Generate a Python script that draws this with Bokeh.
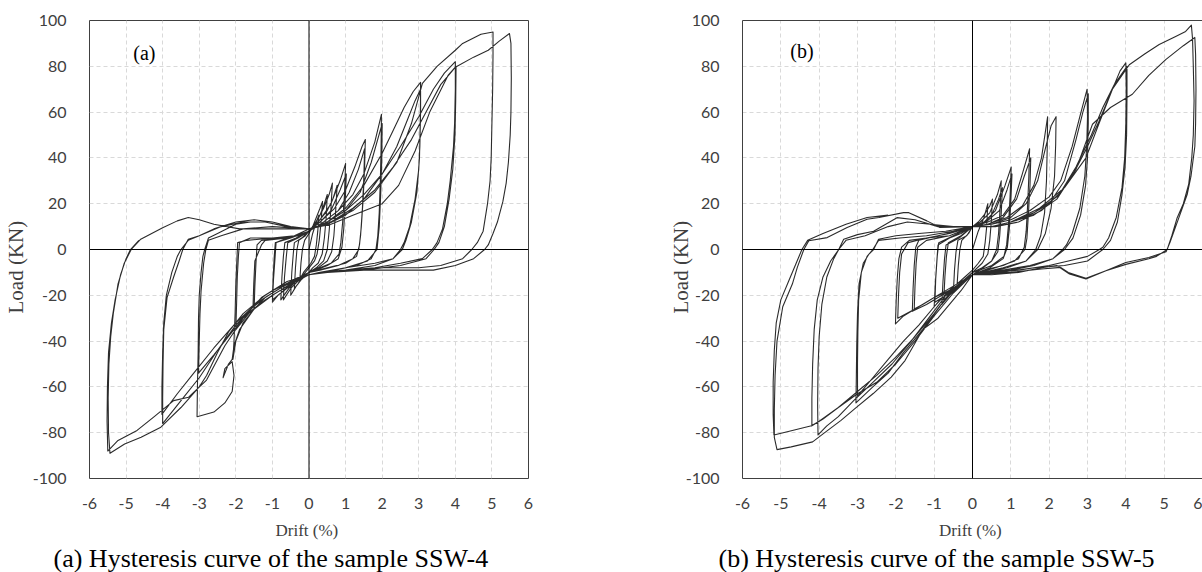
from bokeh.plotting import figure
from bokeh.layouts import row
from bokeh.models import FixedTicker, Span, Label, Title, LinearAxis, Range1d
from bokeh.embed import file_html
from bokeh.resources import INLINE

# ---------------- data ----------------
x_ticks = [-6, -5, -4, -3, -2, -1, 0, 1, 2, 3, 4, 5, 6]
x_tick_labels = ["-6", "-5", "-4", "-3", "-2", "-1", "0", "1", "2", "3", "4", "5", "6"]
y_ticks = [-100, -80, -60, -40, -20, 0, 20, 40, 60, 80, 100]
y_tick_labels = ["-100", "-80", "-60", "-40", "-20", "0", "20", "40", "60", "80", "100"]

x_title = "Drift  (%)"
y_title = "Load (KN)"
captions = ["(a) Hysteresis curve of the sample SSW-4",
            "(b) Hysteresis curve of the sample SSW-5"]
panel_tags = ["(a)", "(b)"]

# SSW-4 : (drift %, load kN), in test order
ssw4_loops_small = [
    (0, 0), (0.1, 7), (0.2, 12), (0.27, 15), (0.24, 8), (0.2, 2), (0.15, -3), (0.05, -6), (-0.05, -8),
    (-0.15, -10), (-0.25, -13), (-0.22, -6), (-0.18, 0), (-0.12, 4), (0, 7),
    (0.1, 10), (0.2, 14), (0.3, 18), (0.37, 21), (0.33, 12), (0.28, 4), (0.22, -2), (0.15, -5), (0, -8),
    (-0.15, -11), (-0.3, -15), (-0.4, -17), (-0.37, -8), (-0.33, 0), (-0.28, 4), (-0.1, 6), (0, 8),
    (0.15, 11), (0.3, 15), (0.42, 20), (0.5, 24), (0.47, 14), (0.42, 5), (0.36, -2), (0.25, -6), (0.1, -8),
    (0, -10), (-0.2, -13), (-0.35, -16), (-0.5, -20), (-0.47, -10), (-0.43, -2), (-0.4, 3), (-0.2, 5), (0, 8),
    (0.2, 12), (0.4, 18), (0.55, 24), (0.64, 29), (0.6, 18), (0.55, 8), (0.5, 0), (0.4, -5), (0.2, -8),
    (0, -10), (-0.25, -13), (-0.5, -17), (-0.7, -22), (-0.67, -12), (-0.62, -3), (-0.58, 3), (-0.3, 5), (0, 8),
    (0.25, 12), (0.5, 17), (0.65, 22), (0.77, 28), (0.73, 17), (0.68, 6), (0.62, -1), (0.5, -5), (0.25, -8),
    (0, -10), (-0.3, -13), (-0.55, -17), (-0.77, -22), (-0.74, -12), (-0.7, -3), (-0.66, 3), (-0.35, 5), (0, 8),
    (0.3, 13), (0.6, 20), (0.85, 30), (1.0, 37.5), (0.97, 24), (0.92, 12), (0.87, 3), (0.82, -2), (0.6, -6),
    (0.3, -8), (0, -10), (-0.3, -13), (-0.6, -17), (-0.85, -20), (-1.0, -23), (-0.97, -13), (-0.93, -4),
    (-0.9, 3), (-0.6, 5), (-0.3, 6), (0, 8),
    (0.3, 12), (0.6, 17), (0.85, 26), (1.02, 33), (0.99, 21), (0.95, 9), (0.9, 1), (0.8, -4), (0.5, -7),
    (0.2, -9), (0, -10), (-0.35, -13), (-0.7, -18), (-1.0, -22), (-0.98, -12), (-0.95, -3), (-0.92, 3),
    (-0.5, 5), (0, 8),
]
ssw4_loops_mid = [
    (0.3, 12), (0.7, 18), (1.0, 26), (1.25, 36), (1.45, 45), (1.54, 48), (1.52, 36), (1.48, 22), (1.43, 10),
    (1.38, 2), (1.3, -3), (1.0, -6), (0.5, -8), (0, -10), (-0.4, -13), (-0.8, -17), (-1.2, -21), (-1.5, -26),
    (-1.48, -16), (-1.45, -6), (-1.42, 2), (-1.3, 4), (-0.8, 5), (-0.3, 6), (0, 8),
    (0.4, 12), (0.8, 17), (1.1, 25), (1.35, 35), (1.52, 44), (1.5, 32), (1.46, 18), (1.41, 6), (1.36, 0),
    (1.2, -4), (0.8, -7), (0.3, -9), (0, -10), (-0.5, -14), (-1.0, -18), (-1.3, -21), (-1.53, -25),
    (-1.51, -15), (-1.48, -5), (-1.3, 2), (-1.2, 4), (-0.6, 5), (0, 8),
    (0.4, 12), (0.8, 17), (1.2, 24), (1.5, 33), (1.8, 47), (1.98, 59), (1.97, 44), (1.95, 30), (1.92, 16),
    (1.88, 6), (1.83, 0), (1.7, -4), (1.3, -7), (0.7, -9), (0, -11), (-0.4, -14), (-0.8, -18), (-1.2, -22),
    (-1.6, -27), (-2.0, -35), (-1.98, -24), (-1.96, -12), (-1.93, -3), (-1.9, 3), (-1.6, 5), (-1.0, 5),
    (-0.4, 6), (0, 9),
    (0.5, 12), (1.0, 17), (1.4, 25), (1.7, 38), (2.0, 55), (1.99, 40), (1.96, 24), (1.92, 10), (1.86, 0),
    (1.6, -5), (1.0, -8), (0.4, -10), (0, -11), (-0.5, -15), (-1.0, -20), (-1.5, -26), (-1.8, -32),
    (-2.0, -40), (-2.08, -48), (-2.05, -40), (-2.02, -28), (-2.0, -15), (-1.97, -4), (-1.95, 3), (-1.7, 4),
    (-1.0, 5), (-0.4, 6), (0, 9),
    (0.5, 12), (1.0, 18), (1.5, 28), (2.0, 42), (2.3, 52), (2.6, 62), (2.85, 69), (3.05, 73), (3.05, 60),
    (3.03, 45), (3.0, 35), (2.9, 22), (2.75, 10), (2.6, 3), (2.5, 0), (2.3, -4), (1.8, -7), (1.0, -9),
    (0.4, -10), (0, -11), (-0.5, -15), (-1.0, -20), (-1.5, -26), (-1.9, -35), (-2.05, -42), (-2.1, -48),
    (-2.2, -50), (-2.35, -56), (-2.3, -52), (-2.1, -49), (-2.05, -55), (-2.1, -62), (-2.3, -67), (-2.6, -71),
    (-3.06, -73), (-3.05, -60), (-3.03, -45), (-3.02, -30), (-3.0, -20), (-2.95, -10), (-2.9, -3),
    (-2.85, 0), (-2.75, 5), (-2.5, 7), (-2.0, 11), (-1.6, 12), (-1.2, 12), (-0.6, 10), (0, 9),
    (0.5, 11), (1.0, 15), (1.5, 22), (2.0, 33), (2.4, 45), (2.7, 57), (2.9, 65), (3.05, 70), (3.04, 55),
    (3.02, 40), (2.95, 25), (2.8, 12), (2.65, 4), (2.55, 0), (2.3, -4), (1.8, -6), (1.0, -8), (0.3, -10),
    (0, -11), (-0.6, -16), (-1.2, -22), (-1.8, -30), (-2.2, -38), (-2.6, -46), (-3.02, -54), (-3.0, -40),
    (-2.98, -28), (-2.95, -18), (-2.88, -6), (-2.82, 0), (-2.75, 4), (-2.4, 6), (-1.8, 9), (-1.0, 10), (0, 9),
]
ssw4_loops_large = [
    (0.5, 12), (1.0, 17), (1.5, 24), (2.0, 33), (2.5, 45), (3.0, 58), (3.4, 70), (3.7, 77), (4.0, 82),
    (4.0, 70), (3.98, 55), (3.95, 45), (3.86, 30), (3.78, 20), (3.65, 9), (3.5, 3), (3.37, 0), (3.1, -4),
    (2.5, -6), (1.8, -8), (1.0, -9), (0.3, -10), (0, -11), (-0.6, -15), (-1.2, -21), (-1.6, -26), (-2.0, -33),
    (-2.5, -44), (-3.0, -56), (-3.5, -66), (-4.0, -76), (-4.0, -65), (-3.99, -50), (-3.97, -35), (-3.88, -21),
    (-3.7, -12), (-3.55, -5), (-3.45, 0), (-3.3, 4.5), (-3.0, 6), (-2.6, 9), (-2.0, 12), (-1.5, 13),
    (-1.0, 12), (-0.5, 10), (0, 9),
    (0.6, 12), (1.2, 18), (1.8, 26), (2.3, 36), (2.8, 48), (3.2, 60), (3.6, 72), (4.02, 80), (4.01, 65),
    (3.99, 50), (3.93, 35), (3.83, 22), (3.7, 10), (3.55, 3), (3.42, 0), (3.2, -4), (2.5, -7), (1.5, -9),
    (0.5, -10), (0, -11), (-0.7, -16), (-1.4, -23), (-2.0, -32), (-2.6, -43), (-3.2, -55), (-3.6, -63),
    (-4.02, -72), (-4.02, -60), (-4.0, -45), (-3.97, -32), (-3.9, -20), (-3.75, -10), (-3.6, -3), (-3.5, 0),
    (-3.3, 4), (-3.0, 6), (-2.4, 10), (-1.8, 12), (-1.2, 12), (-0.6, 10), (0, 9),
    (0.6, 12), (1.2, 17), (1.8, 25), (2.4, 38), (2.8, 55), (3.1, 72.5), (3.5, 80), (4.0, 87), (4.2, 90),
    (4.7, 94), (5.03, 95), (5.03, 85), (5.02, 70), (5.0, 55), (4.98, 40), (4.95, 30), (4.88, 20), (4.76, 8),
    (4.6, 3), (4.45, 0), (4.2, -4), (3.6, -7), (3.0, -8), (2.0, -8), (1.0, -9), (0.3, -10), (0, -11),
    (-0.6, -14), (-1.2, -20), (-1.8, -28), (-2.2, -36), (-2.5, -45), (-2.8, -55), (-3.0, -60), (-3.5, -69),
    (-4.05, -77.6), (-4.59, -82), (-5.04, -84.9), (-5.44, -89), (-5.48, -80), (-5.49, -65), (-5.47, -50),
    (-5.42, -38), (-5.35, -28), (-5.22, -15), (-5.05, -6), (-4.86, 0), (-4.6, 4.5), (-4.3, 7), (-4.0, 9.5),
    (-3.6, 12.5), (-3.3, 14), (-3.0, 13), (-2.6, 11), (-1.9, 9), (-1.0, 9), (0, 9),
    (0.6, 11), (1.2, 15), (2.0, 20), (2.45, 28), (2.9, 43), (3.3, 60), (3.8, 76), (4.0, 79.6), (4.5, 84),
    (4.9, 87), (5.2, 91), (5.48, 94.3), (5.52, 90), (5.53, 75), (5.52, 60), (5.5, 50), (5.45, 38),
    (5.39, 29), (5.3, 21), (5.15, 12), (5.03, 7), (4.9, 2), (4.8, 0), (4.5, -4), (4.0, -7), (3.4, -9),
    (2.5, -9), (1.5, -9), (0.5, -10), (0, -11), (-0.6, -14), (-1.3, -21), (-1.8, -30), (-2.3, -42),
    (-2.8, -57), (-3.29, -64.5), (-3.7, -66), (-4.23, -73), (-4.7, -79), (-5.22, -83.4), (-5.5, -88),
    (-5.52, -75), (-5.51, -60), (-5.48, -45), (-5.4, -32), (-5.3, -22), (-5.15, -11), (-5.0, -4),
    (-4.88, 0), (-4.65, 4),
]

# SSW-5 : (drift %, load kN)
ssw5_loops_small = [
    (0, 0), (0.15, 8), (0.3, 14), (0.4, 20), (0.37, 10), (0.33, 3), (0.28, -3), (0.15, -6), (0, -9),
    (-0.2, -12), (-0.4, -15), (-0.37, -7), (-0.33, 0), (-0.28, 4), (-0.1, 7), (0, 10),
    (0.15, 12), (0.3, 15), (0.45, 19), (0.52, 22), (0.49, 12), (0.45, 4), (0.4, -2), (0.25, -6), (0, -10),
    (-0.2, -13), (-0.38, -16), (-0.5, -19), (-0.47, -9), (-0.43, -1), (-0.38, 4), (-0.15, 6), (0, 10),
    (0.2, 12), (0.45, 16), (0.65, 24), (0.75, 30), (0.72, 18), (0.68, 7), (0.63, 0), (0.5, -5), (0.25, -8),
    (0, -10), (-0.3, -15), (-0.55, -19), (-0.75, -22), (-0.72, -12), (-0.68, -3), (-0.63, 3), (-0.3, 6), (0, 10),
    (0.25, 11), (0.5, 15), (0.68, 22), (0.78, 27), (0.75, 16), (0.71, 6), (0.66, -1), (0.5, -5), (0.2, -9),
    (0, -10), (-0.35, -16), (-0.6, -20), (-0.8, -24), (-0.77, -14), (-0.73, -4), (-0.69, 2), (-0.35, 5), (0, 10),
    (0.3, 12), (0.6, 17), (0.85, 28), (1.01, 36), (0.98, 23), (0.94, 11), (0.89, 2), (0.82, -3), (0.5, -7),
    (0.2, -9), (0, -11), (-0.3, -15), (-0.6, -19), (-0.85, -22), (-1.0, -25), (-0.97, -15), (-0.93, -5),
    (-0.9, 2), (-0.6, 5), (-0.3, 7), (0, 10),
    (0.35, 12), (0.7, 17), (0.9, 26), (1.03, 33), (1.0, 21), (0.96, 9), (0.91, 1), (0.8, -4), (0.45, -8),
    (0, -11), (-0.4, -16), (-0.7, -20), (-0.98, -23), (-0.96, -13), (-0.92, -3), (-0.88, 3), (-0.5, 6), (0, 10),
]
ssw5_loops_mid = [
    (0.4, 12), (0.8, 15), (1.1, 22), (1.3, 33), (1.49, 44), (1.47, 32), (1.44, 20), (1.4, 8), (1.35, 1),
    (1.2, -4), (0.8, -7), (0.3, -9), (0, -11), (-0.4, -16), (-0.8, -20), (-1.2, -24), (-1.57, -27),
    (-1.55, -17), (-1.52, -7), (-1.48, 1), (-1.4, 4), (-0.9, 6), (-0.4, 8), (0, 10),
    (0.4, 11), (0.8, 14), (1.15, 22), (1.35, 32), (1.52, 40), (1.5, 28), (1.46, 16), (1.42, 5), (1.37, 0),
    (1.1, -5), (0.6, -8), (0, -11), (-0.5, -17), (-1.0, -21), (-1.3, -24), (-1.52, -26), (-1.5, -16),
    (-1.47, -6), (-1.43, 1), (-1.2, 4), (-0.6, 6), (0, 10),
    (0.4, 11), (0.9, 14), (1.3, 19), (1.6, 28), (1.8, 40), (1.96, 58), (1.95, 45), (1.93, 30), (1.88, 16),
    (1.78, 6), (1.65, 0), (1.4, -5), (0.9, -8), (0.4, -10), (0, -11), (-0.5, -16), (-1.0, -21), (-1.5, -26),
    (-1.8, -29), (-2.01, -32.5), (-1.99, -22), (-1.96, -12), (-1.92, -4), (-1.85, 1), (-1.65, 4), (-1.2, 5),
    (-0.6, 6), (0, 10),
    (0.5, 11), (1.0, 14), (1.4, 20), (1.7, 30), (1.9, 44), (2.05, 54), (2.18, 58), (2.17, 46), (2.14, 32),
    (2.05, 18), (1.9, 7), (1.7, 0), (1.4, -5), (0.8, -8), (0, -11), (-0.5, -16), (-1.0, -21), (-1.5, -26),
    (-1.95, -30), (-1.93, -20), (-1.9, -10), (-1.85, -2), (-1.68, 3), (-1.2, 5), (-0.6, 7), (0, 10),
    (0.5, 11), (1.0, 13), (1.5, 17), (2.0, 23), (2.3, 30), (2.6, 45), (2.8, 58), (2.99, 70), (3.0, 58),
    (2.98, 45), (2.93, 32), (2.8, 18), (2.6, 7), (2.45, 2), (2.35, 0), (2.1, -4), (1.6, -7), (1.0, -9),
    (0.4, -10), (0, -11), (-0.5, -17), (-0.9, -26), (-1.3, -35), (-1.8, -45), (-2.2, -54), (-2.6, -60),
    (-3.04, -67), (-3.03, -55), (-3.02, -42), (-3.0, -28), (-2.96, -15), (-2.85, -6), (-2.7, -2), (-2.58, 0),
    (-2.45, 4.5), (-2.0, 6), (-1.4, 7), (-0.7, 8), (0, 10),
    (0.5, 10), (1.0, 12), (1.5, 15), (2.0, 20), (2.4, 30), (2.7, 48), (2.88, 60), (3.02, 68), (3.02, 55),
    (3.0, 40), (2.95, 28), (2.82, 15), (2.62, 5), (2.4, 0), (2.1, -4), (1.5, -7), (0.8, -9), (0, -11),
    (-0.5, -16), (-1.0, -25), (-1.4, -33), (-1.8, -40), (-2.2, -48), (-2.6, -56), (-3.0, -64), (-3.0, -50),
    (-2.99, -36), (-2.97, -22), (-2.9, -10), (-2.75, -3), (-2.6, 0), (-2.45, 4), (-1.9, 5), (-1.2, 6),
    (-0.5, 8), (0, 10),
]
ssw5_loops_large = [
    (0.5, 10), (1.0, 12), (1.6, 16), (2.2, 23), (2.6, 32), (3.0, 45), (3.3, 56), (3.65, 70), (3.85, 78),
    (4.0, 81.5), (4.01, 70), (4.0, 55), (3.97, 40), (3.9, 27), (3.75, 14), (3.55, 5), (3.4, 1), (3.31, 0),
    (3.0, -3), (2.5, -5), (2.0, -7), (1.2, -9), (0.5, -10), (0, -11), (-0.5, -17), (-1.0, -28), (-1.5, -38),
    (-2.0, -47), (-2.5, -55), (-3.0, -62), (-3.5, -69), (-3.9, -74), (-4.19, -77), (-4.19, -65),
    (-4.17, -50), (-4.13, -35), (-4.05, -22), (-3.9, -12), (-3.7, -5), (-3.49, 0), (-3.36, 4.5),
    (-3.0, 6.5), (-2.58, 8), (-1.97, 13.9), (-1.5, 13), (-0.9, 10), (0, 10),
    (0.6, 10), (1.2, 12), (1.8, 17), (2.3, 25), (2.7, 36), (3.1, 50), (3.4, 62), (3.7, 72), (4.03, 80),
    (4.03, 66), (4.02, 50), (3.98, 36), (3.9, 24), (3.78, 12), (3.6, 4), (3.4, 0), (3.0, -5), (2.4, -7),
    (1.6, -8), (0.7, -10), (0, -11), (-0.6, -18), (-1.1, -29), (-1.6, -40), (-2.1, -50), (-2.6, -58),
    (-3.1, -66), (-3.5, -73), (-3.8, -77), (-4.03, -81), (-4.04, -68), (-4.03, -52), (-4.0, -38),
    (-3.93, -24), (-3.8, -12), (-3.62, -4), (-3.49, 0), (-3.3, 4), (-2.8, 6), (-2.2, 10), (-1.7, 12),
    (-1.1, 11), (-0.5, 10), (0, 10),
    (0.5, 10), (1.0, 12), (1.75, 18), (2.4, 27), (2.96, 40), (3.3, 55), (3.65, 70), (4.09, 80.7),
    (4.5, 85.5), (4.87, 89.5), (5.3, 93), (5.56, 95.2), (5.71, 98), (5.74, 92), (5.76, 80), (5.78, 65),
    (5.76, 50), (5.72, 40), (5.64, 28.5), (5.5, 20), (5.34, 13.9), (5.2, 6), (5.08, 0), (4.8, -3),
    (4.6, -4), (4.0, -6.5), (3.48, -9.3), (2.96, -12.9), (2.53, -10.7), (2.2, -7), (1.8, -8), (1.2, -10),
    (0.5, -11), (0, -11), (-0.3, -18), (-0.9, -30), (-1.3, -35), (-1.76, -48.5), (-2.12, -55.7),
    (-2.59, -62.9), (-3.06, -69.4), (-3.43, -74.6), (-3.89, -80.4), (-4.17, -84), (-4.73, -86.2),
    (-5.1, -87.4), (-5.17, -82), (-5.17, -70), (-5.15, -55), (-5.1, -40), (-4.95, -25), (-4.7, -15.1),
    (-4.57, -7.8), (-4.4, 0), (-4.27, 3.8), (-3.79, 5.2), (-3.27, 9.6), (-2.75, 13.2), (-2.44, 14),
    (-1.8, 16.1), (-1.66, 16.1), (-1.19, 12.5), (-0.85, 9.6), (0, 10),
    (0.5, 10), (1.0, 12), (1.6, 15), (2.2, 22), (2.7, 35), (3.13, 54.7), (3.6, 62), (4.17, 67.8), (4.6, 76),
    (5.04, 82.9), (5.5, 89), (5.8, 92.6), (5.82, 85), (5.83, 70), (5.82, 55), (5.8, 45), (5.7, 32),
    (5.6, 24), (5.45, 17), (5.3, 10), (5.15, 3), (5.05, -1), (4.6, -3.5), (4.0, -5.7), (3.48, -9.3),
    (2.96, -12.6), (2.5, -10), (2.3, -7.8), (1.8, -8.5), (1.0, -10), (0, -11), (-0.5, -19), (-1.0, -29),
    (-1.5, -40), (-2.0, -50), (-2.5, -58), (-3.0, -63), (-3.5, -69), (-4.0, -75), (-4.2, -77), (-4.7, -79),
    (-5.18, -81), (-5.2, -72), (-5.2, -58), (-5.17, -44), (-5.12, -32), (-5.0, -22), (-4.8, -14),
    (-4.6, -6), (-4.45, 0), (-4.3, 4), (-3.9, 7), (-3.3, 11), (-2.75, 14), (-2.2, 15),
]

# ---------------- styling ----------------
SERIF = "Liberation Serif"
TICK_FONT = "Lato"
TEXT = "#404040"
FRAME = "#404040"
CURVE = "#2b2b2b"


def make_axis(ticks, labels, standoff, line_color):
    return LinearAxis(ticker=FixedTicker(ticks=ticks),
                      major_tick_line_color=None, minor_tick_line_color=None,
                      axis_line_color=line_color,
                      major_label_text_font=TICK_FONT, major_label_text_font_size="16px",
                      major_label_text_color=TEXT, major_label_standoff=standoff,
                      major_label_overrides=dict(zip(ticks, labels)))


def build(path, width, border_left, border_right, caption, cap_offset, tag, tag_x, tag_y,
          use_outline, ylab_standoff):
    p = figure(width=width, height=572, x_range=Range1d(-6, 6), y_range=Range1d(-100, 100),
               output_backend="svg", toolbar_location=None,
               x_axis_location=None, y_axis_location=None,
               min_border_left=border_left, min_border_right=border_right,
               min_border_top=20, min_border_bottom=94)
    p.background_fill_color = "white"
    p.border_fill_color = "white"
    if use_outline:
        p.outline_line_color = FRAME
        p.outline_line_width = 1
    else:
        p.outline_line_color = None

    line_color = None if use_outline else FRAME
    p.add_layout(make_axis(x_ticks, x_tick_labels, 13, line_color), "below")
    p.add_layout(make_axis(y_ticks, y_tick_labels, 17, line_color), "left")

    if not use_outline:
        top = LinearAxis(ticker=FixedTicker(ticks=[]), major_tick_line_color=None,
                         minor_tick_line_color=None, axis_line_color=FRAME,
                         major_label_text_font_size="0px", major_label_standoff=0)
        p.add_layout(top, "above")

    for g in (p.xgrid[0], p.ygrid[0]):
        g.grid_line_color = "#d9d9d9"
        g.grid_line_dash = "4 3"
        g.grid_line_width = 1
    p.xgrid[0].ticker = FixedTicker(ticks=x_ticks)
    p.ygrid[0].ticker = FixedTicker(ticks=y_ticks)

    p.add_layout(Span(location=0, dimension="height", line_color="black", line_width=1))
    p.add_layout(Span(location=0, dimension="width", line_color="black", line_width=1))

    drift = [pt[0] for pt in path]
    load = [pt[1] for pt in path]
    p.line(drift, load, line_color=CURVE, line_width=1.1, line_join="round")

    p.add_layout(Label(x=tag_x, y=tag_y, text=tag, text_align="center", text_baseline="middle",
                       text_font=SERIF, text_font_size="20px", text_color="black"))

    p.add_layout(Title(text=y_title, align="left", offset=165, text_font=SERIF,
                       text_font_size="21px", text_font_style="normal", text_color=TEXT,
                       standoff=ylab_standoff), "left")
    p.add_layout(Title(text=x_title, align="center", text_font=SERIF,
                       text_font_size="17px", text_font_style="normal", text_color=TEXT,
                       standoff=15), "below")
    p.add_layout(Title(text=caption, align="left", offset=cap_offset, text_font=SERIF,
                       text_font_size="26px", text_font_style="normal", text_color="black",
                       standoff=-12), "below")
    return p


ssw4_path = ssw4_loops_small + ssw4_loops_mid + ssw4_loops_large
ssw5_path = ssw5_loops_small + ssw5_loops_mid + ssw5_loops_large

p1 = build(ssw4_path, 600, 81, 72, captions[0], -36, panel_tags[0], -4.5, 85.6, True, 3)
p2 = build(ssw5_path, 602, 142, 0, captions[1], -24, panel_tags[1], -4.45, 86.5, False, -20)

layout = row(p1, p2)
open("out.html", "w").write(file_html(layout, INLINE))
